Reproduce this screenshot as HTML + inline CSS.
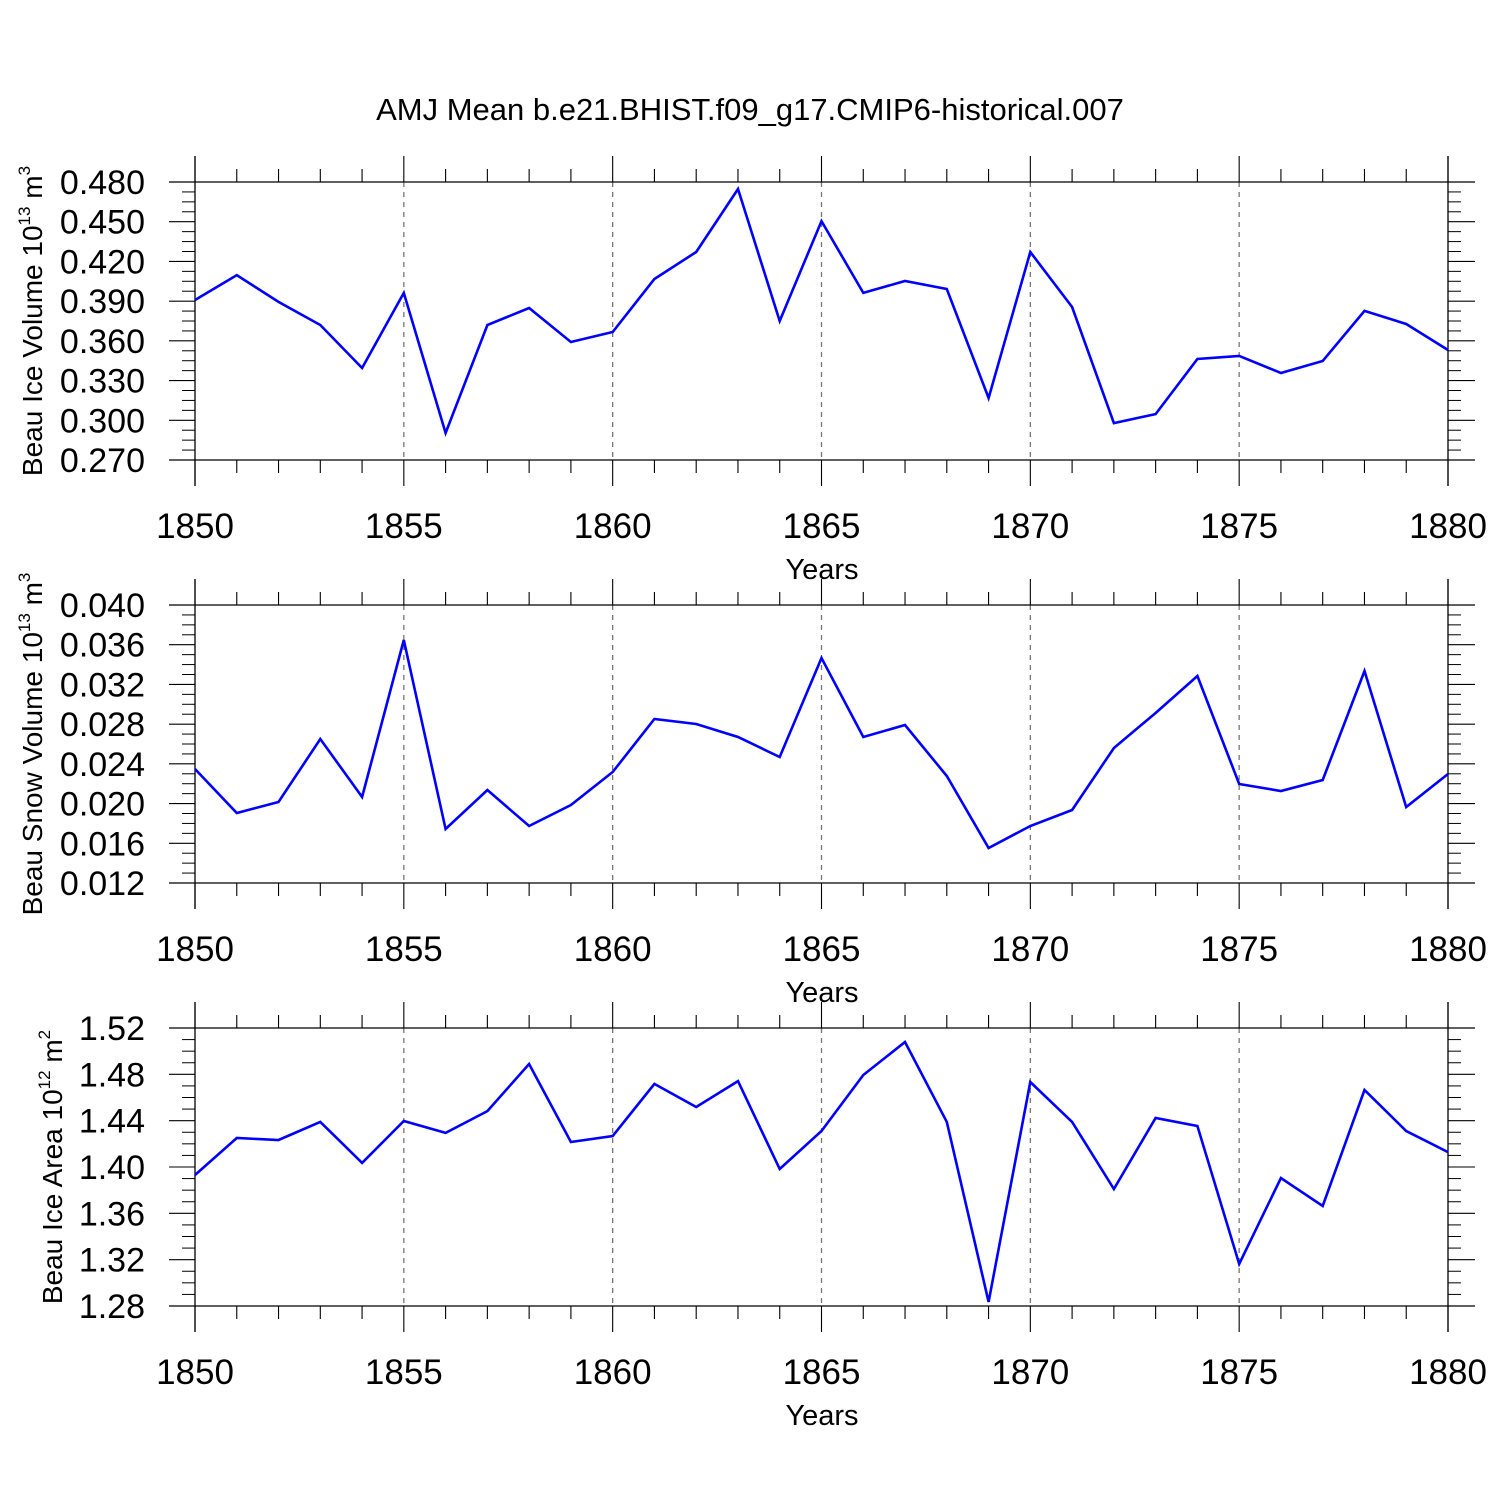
<!DOCTYPE html>
<html><head><meta charset="utf-8"><style>
html,body{margin:0;padding:0;background:#fff;}
svg{display:block;font-family:"Liberation Sans",sans-serif;}
</style></head><body>
<svg id="chart" width="1500" height="1500" viewBox="0 0 1500 1500">
<text x="750" y="120" font-size="31" text-anchor="middle">AMJ Mean b.e21.BHIST.f09_g17.CMIP6-historical.007</text>
</svg>
<script>
const years = [1850,1851,1852,1853,1854,1855,1856,1857,1858,1859,1860,1861,1862,1863,1864,1865,1866,1867,1868,1869,1870,1871,1872,1873,1874,1875,1876,1877,1878,1879,1880];
const iceVolume = [0.3909,0.4097,0.3894,0.372,0.3395,0.3962,0.2904,0.372,0.3848,0.3591,0.3667,0.4067,0.4271,0.4747,0.375,0.4505,0.3962,0.4052,0.3992,0.3168,0.4271,0.3856,0.2979,0.3047,0.3463,0.3486,0.3357,0.3448,0.3826,0.3727,0.3531];
const snowVolume = [0.02348,0.01905,0.02016,0.0265,0.02066,0.03647,0.01744,0.02137,0.01774,0.01986,0.02318,0.02852,0.02801,0.0267,0.02469,0.03466,0.0267,0.02791,0.02278,0.01553,0.01774,0.01935,0.0256,0.02912,0.03285,0.02197,0.02127,0.02237,0.03335,0.01965,0.02298];
const iceArea = [1.3931,1.425,1.4233,1.4389,1.4035,1.4397,1.4294,1.4483,1.4889,1.4216,1.4268,1.4717,1.4518,1.4742,1.3983,1.4311,1.4794,1.5079,1.4389,1.2835,1.4734,1.4389,1.381,1.4423,1.4354,1.3163,1.3905,1.3663,1.4665,1.4311,1.4129];
const iceVolumeTicks = ["0.270","0.300","0.330","0.360","0.390","0.420","0.450","0.480"];
const snowVolumeTicks = ["0.012","0.016","0.020","0.024","0.028","0.032","0.036","0.040"];
const iceAreaTicks = ["1.28","1.32","1.36","1.40","1.44","1.48","1.52"];
const xTickLabels = ["1850","1855","1860","1865","1870","1875","1880"];

const NS="http://www.w3.org/2000/svg";
const svg=document.getElementById('chart');
function mk(tag,attrs,parent){const e=document.createElementNS(NS,tag);for(const k in attrs)e.setAttribute(k,attrs[k]);(parent||svg).appendChild(e);return e;}

const X0=195,X1=1448;
function xs(yr){return X0+(yr-1850)/30*(X1-X0);}

const panels=[
 {name:'ice-volume',top:182,data:iceVolume,ticks:iceVolumeTicks,min:0.270,max:0.480,title:'Beau Ice Volume 10',exp:'13',unit:' m',uexp:'3',tx:32,ty:321},
 {name:'snow-volume',top:605,data:snowVolume,ticks:snowVolumeTicks,min:0.012,max:0.040,title:'Beau Snow Volume 10',exp:'13',unit:' m',uexp:'3',tx:32,ty:744},
 {name:'ice-area',top:1028,data:iceArea,ticks:iceAreaTicks,min:1.28,max:1.52,title:'Beau Ice Area 10',exp:'12',unit:' m',uexp:'2',tx:52,ty:1167}
];
panels.forEach(p=>{
 const g=mk('g',{});
 
 
 const T=p.top,B=p.top+278;
 const ys=v=>B-(v-p.min)/(p.max-p.min)*(B-T);
 for(let yr=1855;yr<1880;yr+=5){
  const l=mk('line',{x1:xs(yr),x2:xs(yr),y1:T,y2:B,stroke:'#777','stroke-width':1.3,'stroke-dasharray':'5,5'},g);
  
  
 }
 mk('line',{x1:169,x2:1475,y1:T,y2:T,stroke:'#000','stroke-width':1.3},g);
 mk('line',{x1:169,x2:1475,y1:B,y2:B,stroke:'#000','stroke-width':1.3},g);
 mk('line',{x1:X0,x2:X0,y1:T-26,y2:B+26,stroke:'#000','stroke-width':1.3},g);
 mk('line',{x1:X1,x2:X1,y1:T-26,y2:B+26,stroke:'#000','stroke-width':1.3},g);
 years.forEach(yr=>{
  const major=(yr-1850)%5===0;const len=major?26:13;const x=xs(yr);
  mk('line',{x1:x,x2:x,y1:T-len,y2:T,stroke:'#000','stroke-width':1.1},g);
  mk('line',{x1:x,x2:x,y1:B,y2:B+len,stroke:'#000','stroke-width':1.1},g);
 });
 xTickLabels.forEach(s=>{
  const t=mk('text',{x:xs(+s),y:B+78,'font-size':35,'text-anchor':'middle'},g);t.textContent=s;
  
  
 });
 const xt=mk('text',{x:822,y:B+119,'font-size':29,'text-anchor':'middle'},g);xt.textContent='Years';
 
 
 const step=(p.max-p.min)/(p.ticks.length-1);
 for(let i=0;i<p.ticks.length;i++){
  const v=p.min+i*step,y=ys(v);
  mk('line',{x1:169,x2:X0,y1:y,y2:y,stroke:'#000','stroke-width':1.1},g);
  mk('line',{x1:X1,x2:1475,y1:y,y2:y,stroke:'#000','stroke-width':1.1},g);
  const t=mk('text',{x:145,y:y+12,'font-size':34,'text-anchor':'end'},g);t.textContent=p.ticks[i];
  
  
  if(i<p.ticks.length-1)for(let k=1;k<=3;k++){const ym=ys(v+step*k/4);
   mk('line',{x1:182,x2:X0,y1:ym,y2:ym,stroke:'#000','stroke-width':1},g);
   mk('line',{x1:X1,x2:1461,y1:ym,y2:ym,stroke:'#000','stroke-width':1},g);}
 }
 const yt=mk('text',{transform:`translate(${p.tx+10},${p.ty}) rotate(-90)`,'font-size':28,'text-anchor':'middle'},g);
 
 
 const a=mk('tspan',{},yt);a.textContent=p.title;
 const b=mk('tspan',{'font-size':17,dy:-12},yt);b.textContent=p.exp;
 const c=mk('tspan',{dy:12},yt);c.textContent=p.unit;
 const d=mk('tspan',{'font-size':17,dy:-12},yt);d.textContent=p.uexp;
 const pts=p.data.map((v,i)=>xs(years[i]).toFixed(1)+','+ys(v).toFixed(1)).join(' ');
 const pl=mk('polyline',{points:pts,fill:'none',stroke:'#0000ff','stroke-width':2.6,'stroke-linejoin':'miter'},g);
 
 
});
</script>
</body></html>
